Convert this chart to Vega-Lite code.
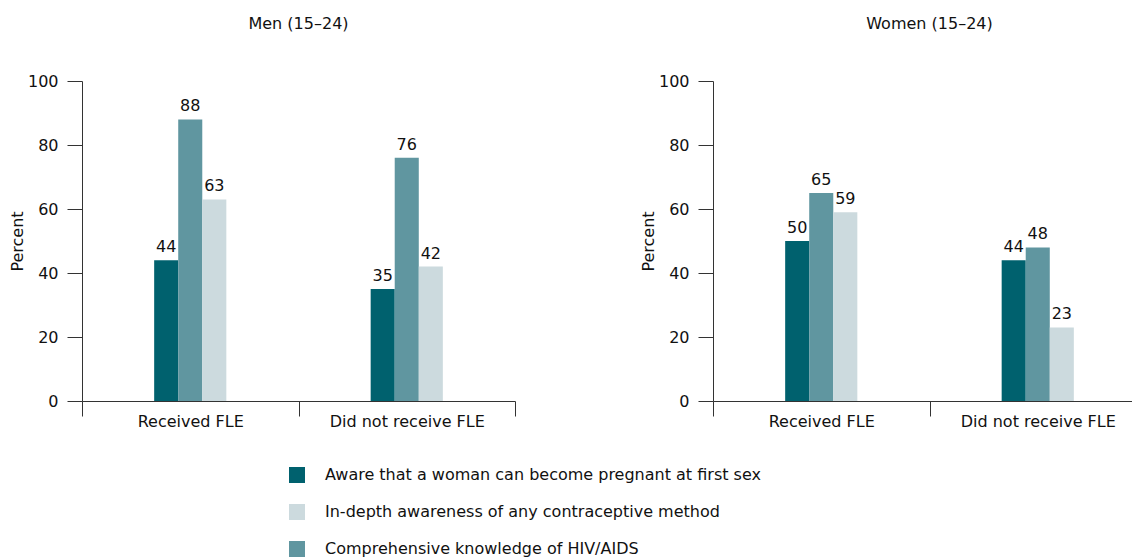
{
  "$schema": "https://vega.github.io/schema/vega-lite/v6.json",
  "padding": {"left": 9, "top": 16, "right": 0, "bottom": 0},
  "background": "white",
  "data": {
    "values": [
      {"sex": "Men", "group": "Received FLE", "indicator": "Aware that a woman can become pregnant at first sex", "value": 44},
      {"sex": "Men", "group": "Received FLE", "indicator": "Comprehensive knowledge of HIV/AIDS", "value": 88},
      {"sex": "Men", "group": "Received FLE", "indicator": "In-depth awareness of any contraceptive method", "value": 63},
      {"sex": "Men", "group": "Did not receive FLE", "indicator": "Aware that a woman can become pregnant at first sex", "value": 35},
      {"sex": "Men", "group": "Did not receive FLE", "indicator": "Comprehensive knowledge of HIV/AIDS", "value": 76},
      {"sex": "Men", "group": "Did not receive FLE", "indicator": "In-depth awareness of any contraceptive method", "value": 42},
      {"sex": "Women", "group": "Received FLE", "indicator": "Aware that a woman can become pregnant at first sex", "value": 50},
      {"sex": "Women", "group": "Received FLE", "indicator": "Comprehensive knowledge of HIV/AIDS", "value": 65},
      {"sex": "Women", "group": "Received FLE", "indicator": "In-depth awareness of any contraceptive method", "value": 59},
      {"sex": "Women", "group": "Did not receive FLE", "indicator": "Aware that a woman can become pregnant at first sex", "value": 44},
      {"sex": "Women", "group": "Did not receive FLE", "indicator": "Comprehensive knowledge of HIV/AIDS", "value": 48},
      {"sex": "Women", "group": "Did not receive FLE", "indicator": "In-depth awareness of any contraceptive method", "value": 23}
    ]
  },
  "config": {
    "font": "DejaVu Sans",
    "view": {"stroke": null},
    "concat": {"spacing": 124},
    "axis": {
      "domainColor": "#333333",
      "tickColor": "#333333",
      "labelColor": "#111111",
      "titleColor": "#111111",
      "labelFontSize": 16,
      "titleFontSize": 16,
      "titleFontWeight": "normal",
      "tickSize": 15,
      "grid": false
    },
    "title": {"fontSize": 16, "fontWeight": "normal", "color": "#111111", "anchor": "middle", "frame": "group", "offset": 41}
  },
  "resolve": {"scale": {"color": "shared"}},
  "hconcat": [
    {
      "title": "Men (15–24)",
      "width": 433,
      "height": 320,
      "transform": [{"filter": "datum.sex === 'Men'"}],
      "encoding": {
        "x": {"field": "group", "type": "nominal", "sort": ["Received FLE", "Did not receive FLE"], "scale": {"paddingInner": 0, "paddingOuter": 0}, "axis": {"title": null, "labelAngle": 0, "tickBand": "extent", "labelPadding": -3}},
        "xOffset": {"field": "indicator", "type": "nominal", "scale": {"domain": ["p1", "p2", "p3", "Aware that a woman can become pregnant at first sex", "Comprehensive knowledge of HIV/AIDS", "In-depth awareness of any contraceptive method", "p4", "p5", "p6"], "paddingInner": 0, "paddingOuter": 0}},
        "y": {"field": "value", "type": "quantitative", "scale": {"domain": [0, 100]}, "axis": {"title": "Percent", "values": [0, 20, 40, 60, 80, 100], "labelPadding": 9, "titlePadding": 2}}
      },
      "layer": [
        {
          "mark": {"type": "bar"},
          "encoding": {
            "color": {"field": "indicator", "type": "nominal",
              "scale": {"domain": ["Aware that a woman can become pregnant at first sex", "In-depth awareness of any contraceptive method", "Comprehensive knowledge of HIV/AIDS"], "range": ["#00616E", "#CCDADE", "#6096A0"]},
              "legend": {"title": null, "orient": "none", "legendX": 207, "legendY": 386, "direction": "vertical", "symbolType": "square", "symbolSize": 256, "symbolStrokeWidth": 0, "labelFontSize": 16, "labelColor": "#111111", "rowPadding": 21, "labelOffset": 20, "labelLimit": 600,
                "encode": {"symbols": {"update": {"fill": [{"test": "datum.value === 'Comprehensive knowledge of HIV/AIDS'", "value": "#94B4BC"}, {"scale": "color", "field": "value"}]}}}}
            }
          }
        },
        {
          "mark": {"type": "text", "baseline": "bottom", "dy": -5, "fontSize": 16, "color": "#111111"},
          "encoding": {"text": {"field": "value", "type": "quantitative"}}
        }
      ]
    },
    {
      "title": "Women (15–24)",
      "width": 433,
      "height": 320,
      "transform": [{"filter": "datum.sex === 'Women'"}],
      "encoding": {
        "x": {"field": "group", "type": "nominal", "sort": ["Received FLE", "Did not receive FLE"], "scale": {"paddingInner": 0, "paddingOuter": 0}, "axis": {"title": null, "labelAngle": 0, "tickBand": "extent", "labelPadding": -3}},
        "xOffset": {"field": "indicator", "type": "nominal", "scale": {"domain": ["p1", "p2", "p3", "Aware that a woman can become pregnant at first sex", "Comprehensive knowledge of HIV/AIDS", "In-depth awareness of any contraceptive method", "p4", "p5", "p6"], "paddingInner": 0, "paddingOuter": 0}},
        "y": {"field": "value", "type": "quantitative", "scale": {"domain": [0, 100]}, "axis": {"title": "Percent", "values": [0, 20, 40, 60, 80, 100], "labelPadding": 9, "titlePadding": 2}}
      },
      "layer": [
        {
          "mark": {"type": "bar"},
          "encoding": {
            "color": {"field": "indicator", "type": "nominal"}
          }
        },
        {
          "mark": {"type": "text", "baseline": "bottom", "dy": -5, "fontSize": 16, "color": "#111111"},
          "encoding": {"text": {"field": "value", "type": "quantitative"}}
        }
      ]
    }
  ]
}
